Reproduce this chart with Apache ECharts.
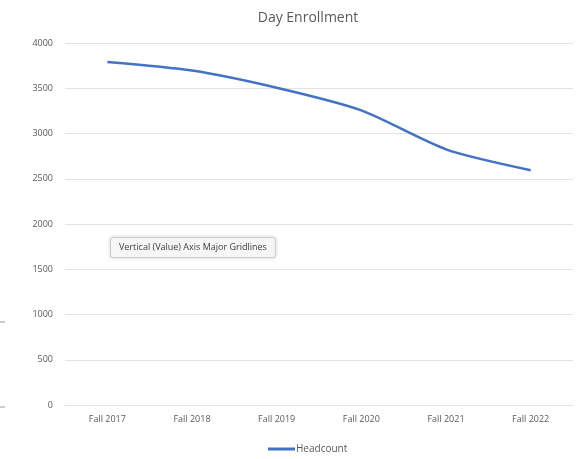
<!DOCTYPE html>
<html>
<head>
<meta charset="utf-8">
<script src="https://cdn.jsdelivr.net/npm/echarts@6/dist/echarts.min.js"></script>
<style>
  html, body { margin: 0; padding: 0; background: #fff; }
  #chart { width: 588px; height: 459px; }
</style>
</head>
<body>
<div id="chart"></div>
<script>
// 数据
var categories = ["Fall 2017", "Fall 2018", "Fall 2019", "Fall 2020", "Fall 2021", "Fall 2022"];
var headcount = [3790, 3695, 3505, 3255, 2825, 2595];
var yTicks = [0, 500, 1000, 1500, 2000, 2500, 3000, 3500, 4000];

var chart = echarts.init(document.getElementById("chart"));
chart.setOption({
  animation: false,
  title: {
    text: "Day Enrollment",
    left: 303,
    textAlign: "center",
    top: 6,
    textStyle: { fontFamily: "Open Sans", fontSize: 14, fontWeight: "normal", color: "#595959" },
  },
  grid: { left: 65, right: 15, top: 43, bottom: 54 },
  legend: {
    bottom: 0,
    left: 263,
    icon: "rect",
    itemWidth: 27,
    itemHeight: 3,
    itemGap: 0,
    textStyle: { fontFamily: "Open Sans", fontSize: 10, color: "#595959", padding: [0, 0, 0, -4] },
    data: ["Headcount"],
  },
  xAxis: {
    type: "category",
    data: categories,
    boundaryGap: true,
    axisLine: { show: true, lineStyle: { color: "#e3e3e3" } },
    axisTick: { show: false },
    axisLabel: { fontFamily: "Open Sans", fontSize: 9, color: "#595959", margin: 10 },
  },
  yAxis: {
    type: "value",
    min: yTicks[0],
    max: yTicks[yTicks.length - 1],
    interval: 500,
    axisLine: { show: false },
    axisTick: { show: false },
    axisLabel: {
      fontFamily: "Open Sans",
      fontSize: 9,
      color: "#595959",
      margin: 12,
      formatter: function (v) { return String(v); },
    },
    splitLine: { lineStyle: { color: "#e3e3e3", width: 1 } },
  },
  series: [
    {
      name: "Headcount",
      type: "line",
      data: headcount,
      smooth: 0.25,
      symbol: "none",
      // 线条颜色
      lineStyle: { color: "#4472c4", width: 2.5 },
      itemStyle: { color: "#4472c4" },
    },
  ],
  graphic: [
    // 悬浮提示框
    {
      type: "text",
      left: 110,
      top: 237,
      style: {
        text: "Vertical (Value) Axis Major Gridlines",
        fontFamily: "Open Sans",
        fontSize: 9,
        fill: "#404040",
        backgroundColor: "#f6f6f6",
        borderColor: "#d8d8d8",
        borderWidth: 1,
        borderRadius: 2,
        padding: [5, 8],
        shadowBlur: 4,
        shadowColor: "rgba(0,0,0,0.15)",
      },
    },
    { type: "line", shape: { x1: 0, y1: 322, x2: 5, y2: 322 }, style: { stroke: "#9a9a9a", lineWidth: 1 } },
    { type: "line", shape: { x1: 0, y1: 407, x2: 5, y2: 407 }, style: { stroke: "#9a9a9a", lineWidth: 1 } },
  ],
});
</script>
</body>
</html>
